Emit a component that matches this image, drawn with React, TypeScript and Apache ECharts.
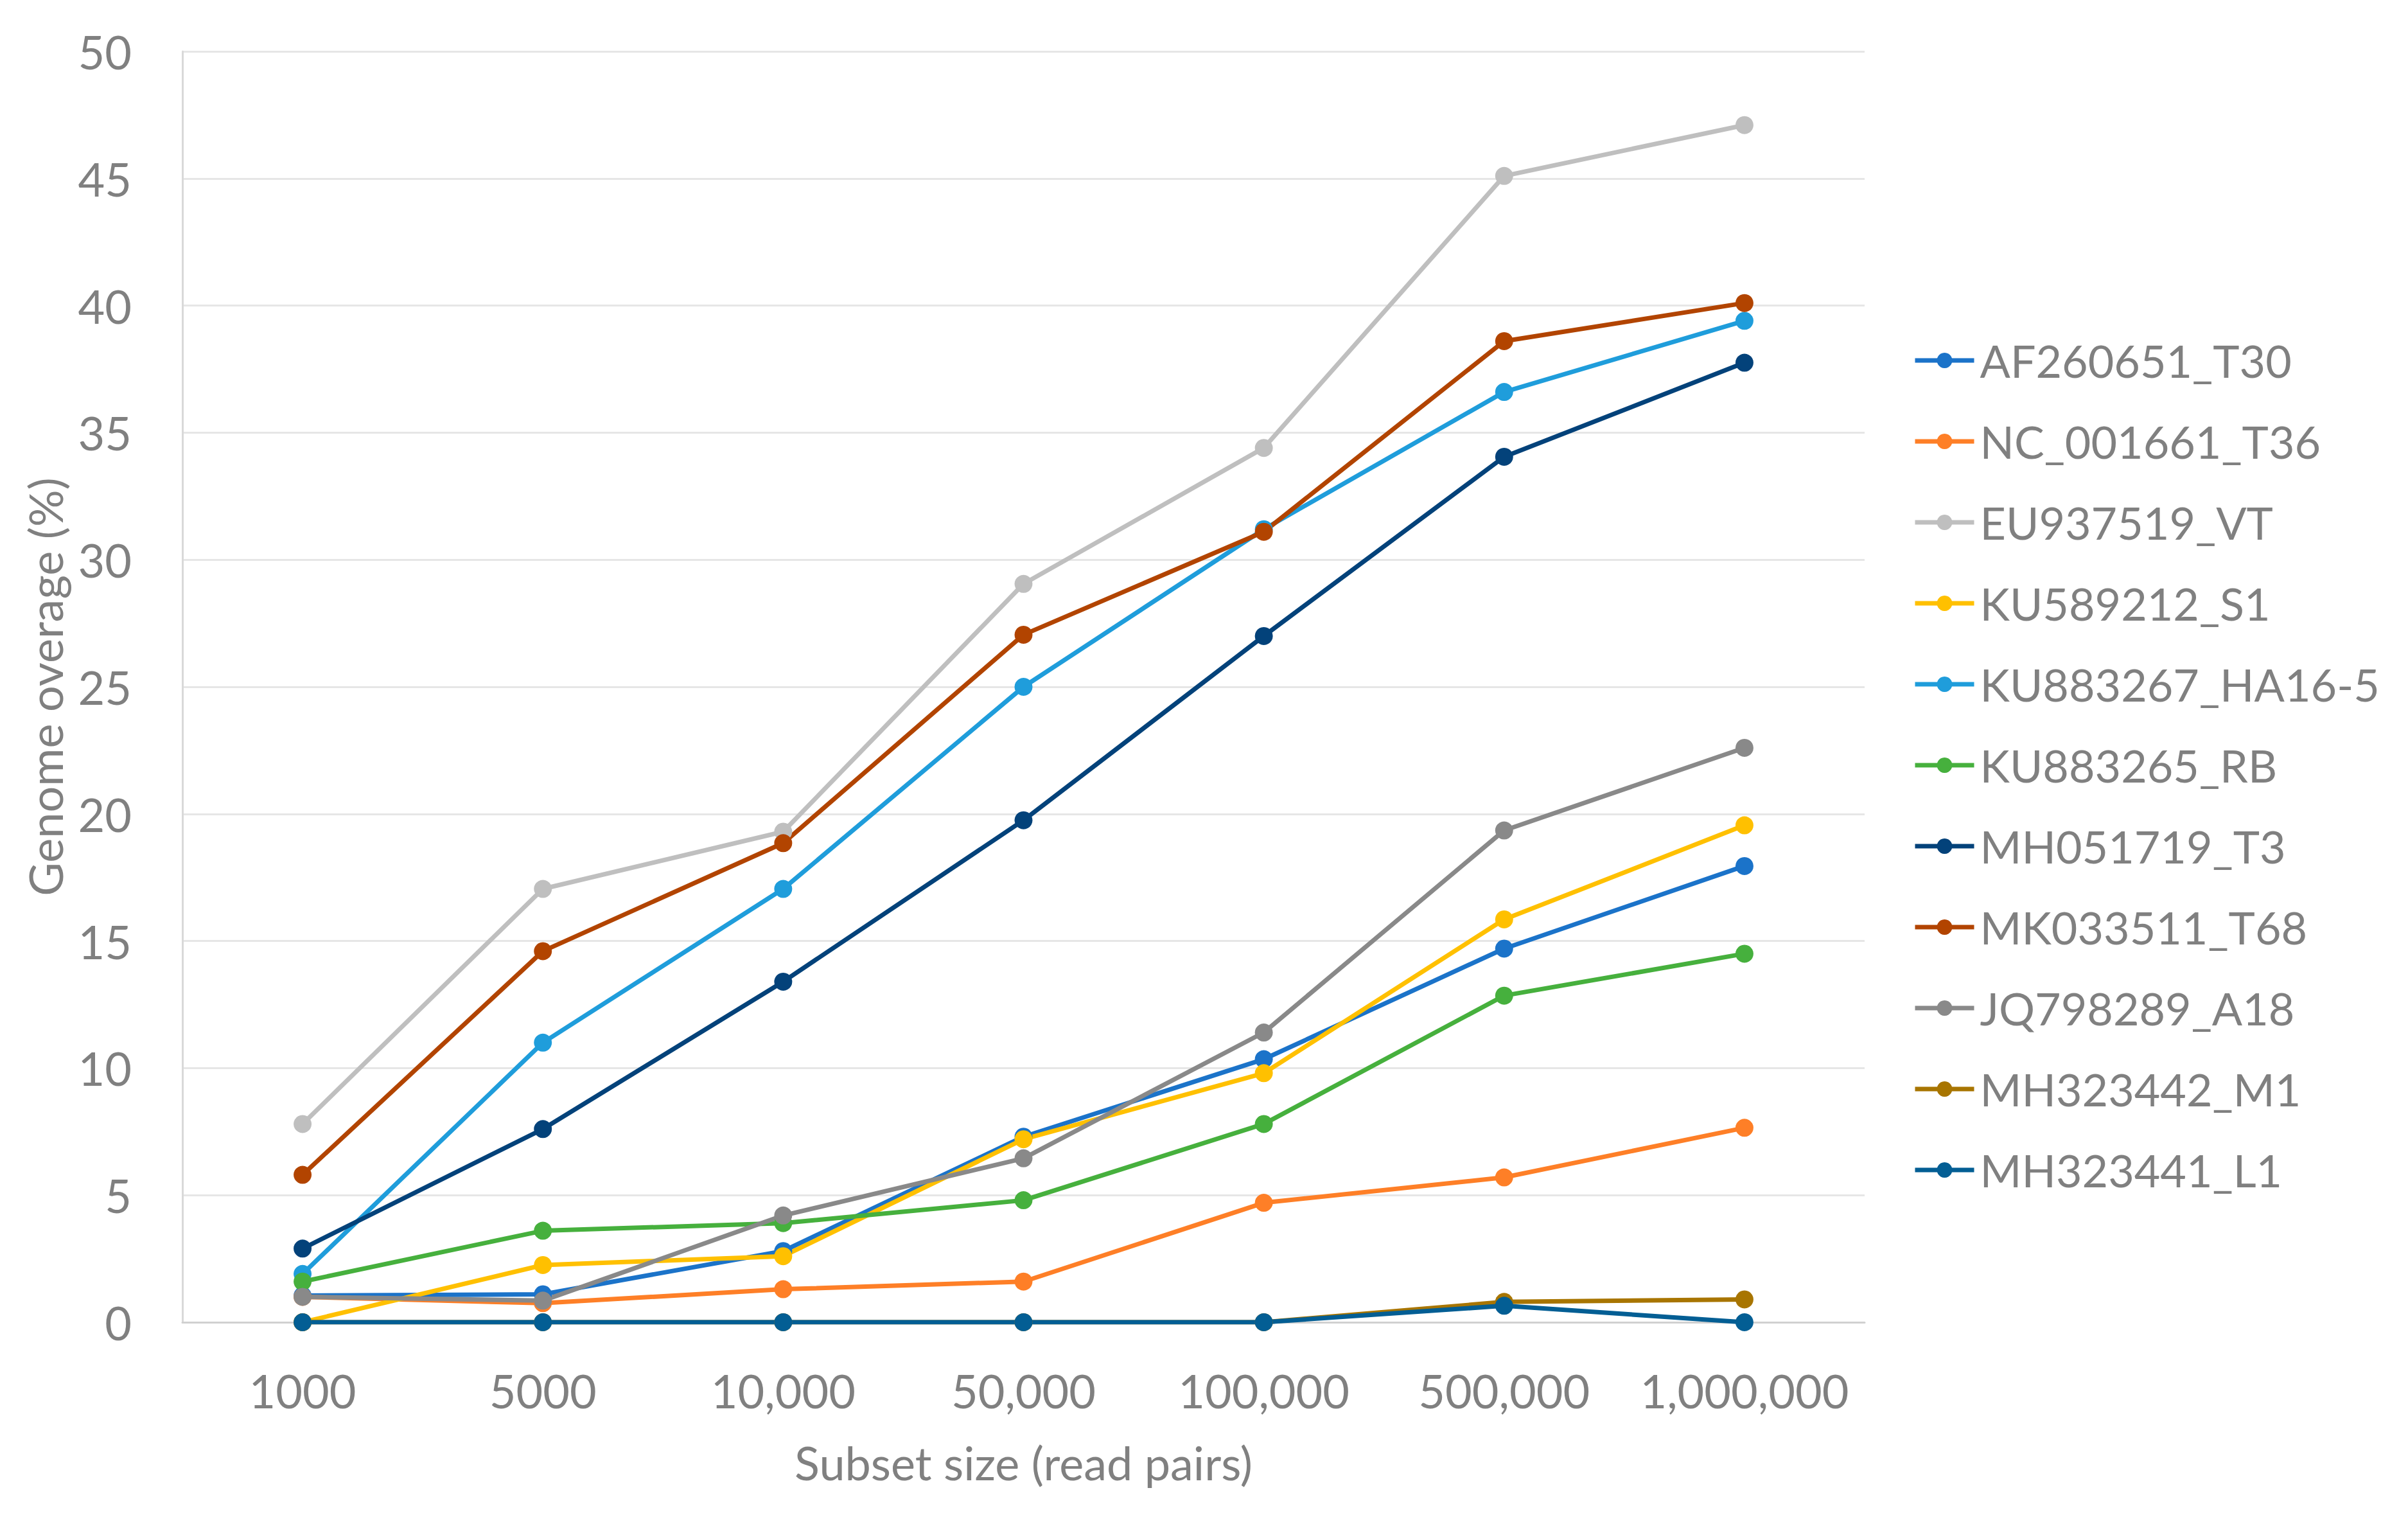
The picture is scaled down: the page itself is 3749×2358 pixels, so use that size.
import React, { useEffect, useRef } from "react";
import * as echarts from "echarts";

const categories = ["1000", "5000", "10,000", "50,000", "100,000", "500,000", "1,000,000"];

const seriesNames = [
  "AF260651_T30",
  "NC_001661_T36",
  "EU937519_VT",
  "KU589212_S1",
  "KU883267_HA16-5",
  "KU883265_RB",
  "MH051719_T3",
  "MK033511_T68",
  "JQ798289_A18",
  "MH323442_M1",
  "MH323441_L1",
];

const AF260651_T30 = [1.05, 1.1, 2.8, 7.3, 10.35, 14.7, 17.95];
const NC_001661_T36 = [1.0, 0.75, 1.3, 1.6, 4.7, 5.7, 7.65];
const EU937519_VT = [7.8, 17.05, 19.3, 29.05, 34.4, 45.1, 47.1];
const KU589212_S1 = [0, 2.25, 2.6, 7.2, 9.8, 15.85, 19.55];
const KU883267_HA16_5 = [1.9, 11.0, 17.05, 25.0, 31.2, 36.6, 39.4];
const KU883265_RB = [1.6, 3.6, 3.9, 4.8, 7.8, 12.85, 14.5];
const MH051719_T3 = [2.9, 7.6, 13.4, 19.75, 27.0, 34.05, 37.75];
const MK033511_T68 = [5.8, 14.6, 18.85, 27.05, 31.1, 38.6, 40.1];
const JQ798289_A18 = [1.0, 0.85, 4.2, 6.45, 11.4, 19.35, 22.6];
const MH323442_M1 = [0, 0, 0, 0, 0, 0.8, 0.9];
const MH323441_L1 = [0, 0, 0, 0, 0, 0.65, 0];

const seriesValues = [
  AF260651_T30,
  NC_001661_T36,
  EU937519_VT,
  KU589212_S1,
  KU883267_HA16_5,
  KU883265_RB,
  MH051719_T3,
  MK033511_T68,
  JQ798289_A18,
  MH323442_M1,
  MH323441_L1,
];

const seriesColors = [
  "#1B73C9",
  "#FE7F27",
  "#BFBFBF",
  "#FFC000",
  "#1F9DDB",
  "#46B03D",
  "#03427A",
  "#B24400",
  "#898989",
  "#A87500",
  "#035E94",
];

const yTicks = { min: 0, max: 50, interval: 5 };

const FONT = "Lato";
const TEXT_COLOR = "#808080";

export default function App() {
  const ref = useRef<HTMLDivElement>(null);

  useEffect(() => {
    if (!ref.current) return;
    const chart = echarts.init(ref.current, undefined, { renderer: "svg" });
    const option = {
      animation: false,
      backgroundColor: "#ffffff",
      textStyle: { fontFamily: FONT },
      grid: { left: 284, right: 846, top: 80, bottom: 300, containLabel: false },
      legend: {
        orient: "vertical",
        left: 2973,
        top: 520,
        itemWidth: 92,
        itemHeight: 30,
        itemGap: 54,
        data: seriesNames,
        lineStyle: { width: 7 },
        textStyle: {
          color: TEXT_COLOR,
          fontSize: 70,
          lineHeight: 72,
          fontFamily: FONT,
          padding: [0, 0, 0, 4],
        },
      },
      xAxis: {
        type: "category",
        data: categories,
        boundaryGap: true,
        name: "Subset size (read pairs)",
        nameLocation: "middle",
        nameGap: 182,
        nameTextStyle: { color: TEXT_COLOR, fontSize: 72, fontFamily: FONT },
        axisLine: { show: true, lineStyle: { color: "#D0D0D0", width: 3 } },
        axisTick: { show: false },
        axisLabel: { color: TEXT_COLOR, fontSize: 72, margin: 70, interval: 0, fontFamily: FONT },
        splitLine: { show: false },
      },
      yAxis: {
        type: "value",
        min: yTicks.min,
        max: yTicks.max,
        interval: yTicks.interval,
        name: "Genome overage (%)",
        nameLocation: "middle",
        nameGap: 178,
        nameTextStyle: { color: TEXT_COLOR, fontSize: 72, fontFamily: FONT },
        axisLine: { show: true, lineStyle: { color: "#D9D9D9", width: 3 } },
        axisTick: { show: false },
        axisLabel: { color: TEXT_COLOR, fontSize: 72, margin: 79, fontFamily: FONT },
        splitLine: { show: true, lineStyle: { color: "#E6E6E6", width: 3 } },
      },
      series: seriesNames.map((name, i) => ({
        name,
        type: "line",
        data: seriesValues[i],
        symbol: "circle",
        symbolSize: 28,
        showSymbol: true,
        lineStyle: { color: seriesColors[i], width: 7 },
        itemStyle: { color: seriesColors[i] },
        emphasis: { disabled: true },
      })),
    };
    chart.setOption(option as any);
    return () => chart.dispose();
  }, []);

  return (
    <div
      ref={ref}
      style={{ position: "fixed", left: 0, top: 0, width: 3749, height: 2358, background: "#fff" }}
    />
  );
}
